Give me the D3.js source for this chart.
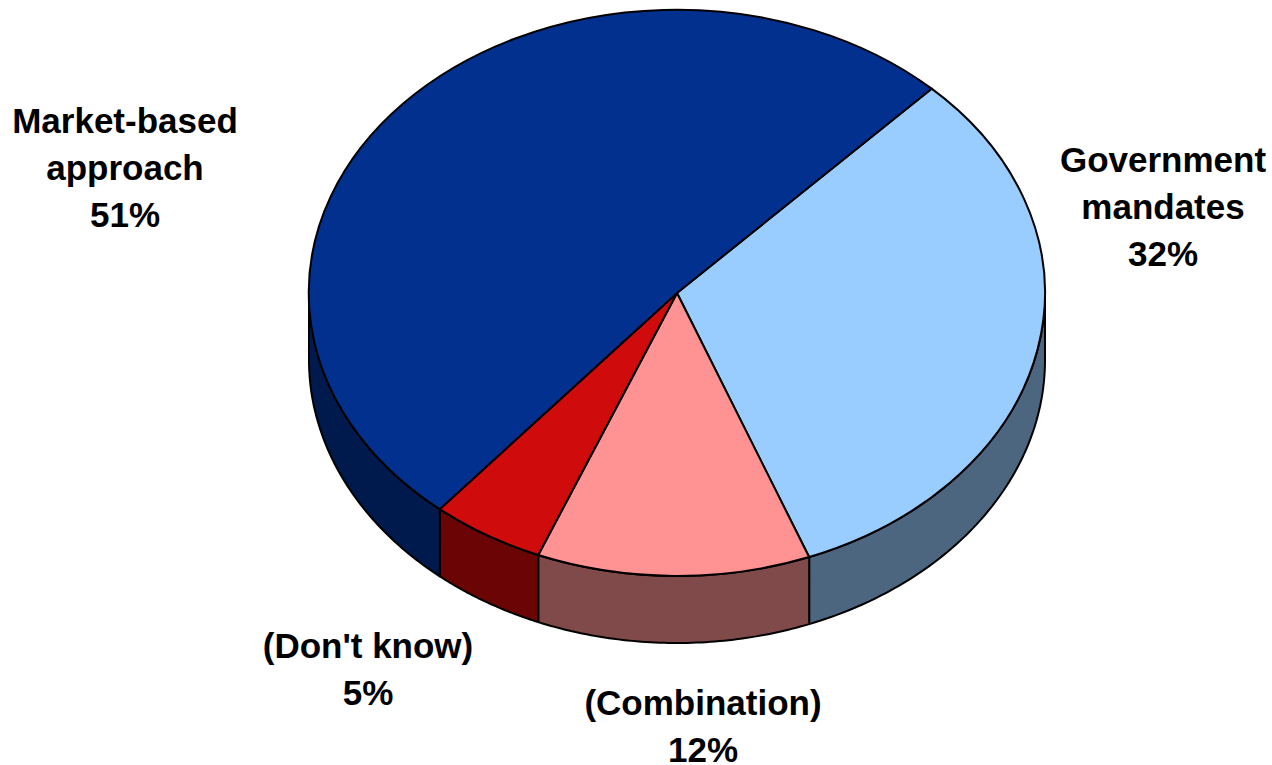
<!DOCTYPE html>
<html><head><meta charset="utf-8">
<script src="https://cdn.jsdelivr.net/npm/d3@7"></script>
<style>html,body{margin:0;padding:0;background:#fff}svg{display:block}
text{font-family:"Liberation Sans",Arial,sans-serif;font-weight:700;font-size:35px;fill:#000;text-anchor:middle}</style>
</head><body><svg id="c" width="1272" height="765"></svg>
<script>
const categories = ["Government mandates", "(Combination)", "(Don't know)", "Market-based approach"];
const values = [32, 12, 5, 51];
const topColors = ["#99ccff", "#ff9393", "#cf0b0b", "#02308f"];
const sideColors = ["#4d667f", "#804a4a", "#6b0505", "#011a4e"];
const labelLines = [["Government", "mandates", "32%"], ["(Combination)", "12%"], ["(Don't know)", "5%"], ["Market-based", "approach", "51%"]];
const labelAnchors = [[1163, 172], [703, 715], [368, 658], [125, 133]];

const cx = 677, cy = 293, rx = 368, ry = 283, depth = 67;
const startAngle = 43.75 * Math.PI / 180;
const svg = d3.select("#c");

const pie = d3.pie().sort(null).value(d => d).startAngle(startAngle).endAngle(startAngle + 2 * Math.PI);
const arcs = pie(values);

// Ellipse projection: a pie angle (clockwise from 12 o'clock) to page coordinates.
const px = a => cx + rx * Math.sin(a);
const py = (a, dz = 0) => cy - ry * Math.cos(a) + dz;
const line = d3.line();
const lowFront = Math.PI / 2, highFront = 3 * Math.PI / 2;

// Side walls: only the part of each slice facing the viewer.
const walls = svg.append("g");
arcs.forEach((s, i) => {
  const a0 = Math.max(s.startAngle, lowFront), a1 = Math.min(s.endAngle, highFront);
  if (a1 <= a0) return;
  const steps = d3.range(0, 61).map(k => a0 + (a1 - a0) * k / 60);
  const pts = steps.map(a => [px(a), py(a)]).concat(steps.slice().reverse().map(a => [px(a), py(a, depth)]));
  walls.append("path").attr("d", line(pts) + "Z")
    .attr("fill", sideColors[i]).attr("stroke", "#000").attr("stroke-width", 2).attr("stroke-linejoin", "round");
});

// Top face: unit-radius arcs stretched into the ellipse.
const arcGen = d3.arc().innerRadius(0).outerRadius(1);
const face = svg.append("g").attr("transform", `translate(${cx},${cy}) scale(${rx},${ry})`);
face.selectAll("path").data(arcs).join("path")
  .attr("d", arcGen)
  .attr("fill", (d, i) => topColors[i])
  .attr("stroke", "#000").attr("stroke-width", 2)
  .attr("stroke-linejoin", "round")
  .attr("vector-effect", "non-scaling-stroke");

// Category labels with their percentages; anchors give the first baseline.
const lineHeight = 47;
labelLines.forEach((lines, i) => {
  const t = svg.append("text");
  lines.forEach((l, j) => t.append("tspan")
    .attr("x", labelAnchors[i][0])
    .attr("y", labelAnchors[i][1] + j * lineHeight)
    .text(l));
});
</script></body></html>
